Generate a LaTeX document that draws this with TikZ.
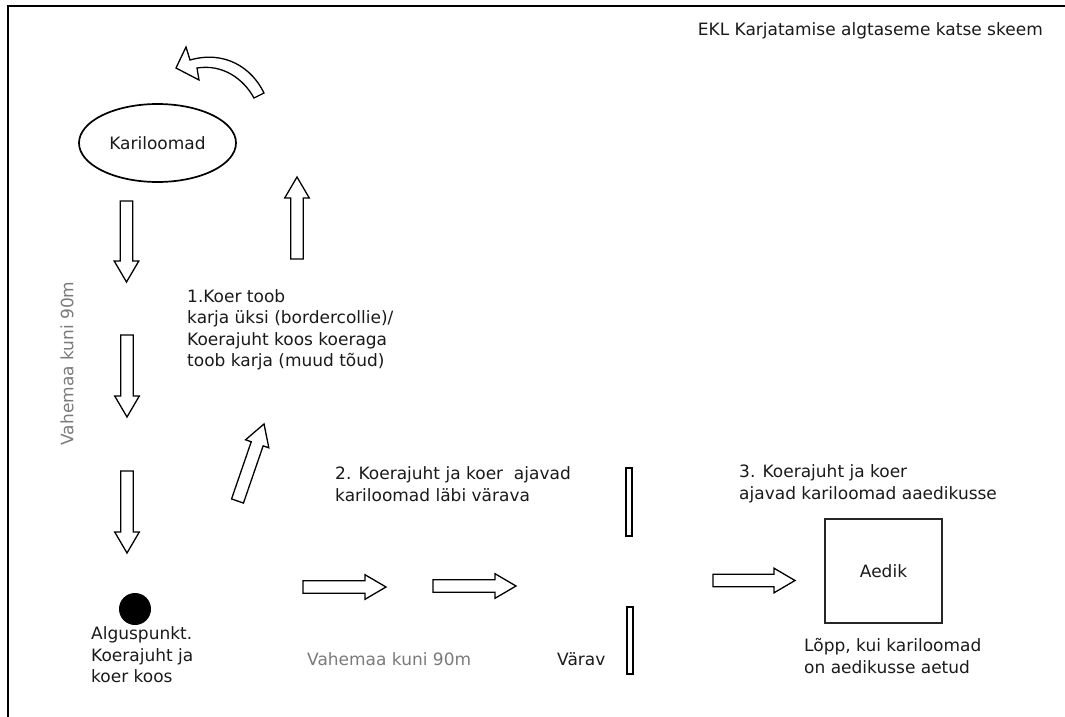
\documentclass[tikz,border=0pt]{standalone}
\usepackage{fontspec}
\setmainfont{DejaVu Sans}
\usetikzlibrary{shapes.geometric}
\definecolor{ink}{HTML}{1A1A1A}
\definecolor{dim}{HTML}{7A7A7A}
\newcommand{\blockarr}[4]{%
  \begin{scope}[shift={(#1,#2)},rotate=#3]
    \draw[barrow] (0,-6.3) -- (#4-21,-6.3) -- (#4-21,-12.3) -- (#4,0) -- (#4-21,12.3) -- (#4-21,6.3) -- (0,6.3) -- cycle;
  \end{scope}}
\begin{document}
\begin{tikzpicture}[x=1pt,y=-1pt,
  txt/.style={font=\fontsize{17}{21.3}\selectfont, text=ink, inner sep=0pt, align=left},
  graytxt/.style={font=\fontsize{17}{21.3}\selectfont, text=dim, inner sep=0pt},
  barrow/.style={draw=black, line width=1.3pt, fill=white, line join=miter},
  gatebar/.style={draw=black, line width=1.6pt, fill=white}]
\useasboundingbox (0,0) rectangle (1065,717);
% frame (top and left only)
\draw[line width=1.8pt] (1065,6) -- (8,6) -- (8,717);
% title
\node[txt, anchor=base east] (title) at (1043,36) {EKL Karjatamise algtaseme katse skeem};
% curved arrow
\draw[barrow] (190,60) .. controls (225,50) and (252,68) .. (264,93) -- (254,98)
  .. controls (243,78) and (222,64) .. (197,68) -- (199,80) -- (176,68) -- (186,47) -- cycle;
% herd ellipse
\node[ellipse, draw=black, line width=1.7pt, minimum width=157pt, minimum height=78pt, inner sep=0pt,
  font=\fontsize{17}{21.3}\selectfont, text=ink] (herd) at (157.5,143) {Kariloomad};
% block arrows
\blockarr{126.5}{201}{-90}{81}
\blockarr{127}{335}{-90}{82}
\blockarr{127}{471}{-90}{82}
\blockarr{297}{259}{90}{82}
\blockarr{237.5}{501}{71}{81.5}
\blockarr{303}{587}{0}{83}
\blockarr{433}{586}{0}{83}
\blockarr{713}{580.5}{0}{82}
% start point
\node[circle, fill=black, minimum size=32pt, inner sep=0pt] (start) at (135,609) {};
\node[txt, anchor=base west] (startlbl) at (91,682.5) {Alguspunkt.\\Koerajuht ja\\koer koos};
% vertical distance label
\node[graytxt, rotate=90] (dist1) at (67,363.5) {Vahemaa kuni 90m};
% step 1
\node[txt, anchor=base west] (step1) at (187,366.5) {1.Koer toob\\karja üksi (bordercollie)/\\Koerajuht koos koeraga\\toob karja (muud tõud)};
% step 2
\node[txt, anchor=base west] (step2) at (335,501) {2. Koerajuht ja koer\ \ ajavad\\kariloomad läbi värava};
\node[graytxt, anchor=base west] (dist2) at (307,665) {Vahemaa kuni 90m};
% gate
\draw[gatebar] (626,468) rectangle (632,536);
\draw[gatebar] (627,607) rectangle (633,674);
\node[txt, anchor=base west] (gate) at (557,665) {Värav};
% step 3
\node[txt, anchor=base west] (step3) at (739,499) {3. Koerajuht ja koer\\ajavad kariloomad aaedikusse};
\node[draw=black!85, line width=1.3pt, minimum width=117pt, minimum height=104pt, inner sep=0pt,
  font=\fontsize{17}{21.3}\selectfont, text=ink] (pen) at (883.5,571) {Aedik};
\node[txt, anchor=base west] (endlbl) at (804,673) {Lõpp, kui kariloomad\\on aedikusse aetud};
\end{tikzpicture}
\end{document}
